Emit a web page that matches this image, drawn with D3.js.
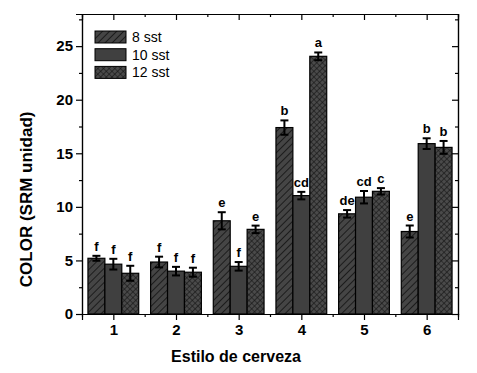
<!DOCTYPE html>
<html>
<head>
<meta charset="utf-8">
<script src="https://cdn.jsdelivr.net/npm/d3@7"></script>
<style>
  body { margin: 0; background: #fff; }
  svg { font-family: Arial, "Liberation Sans", sans-serif; }
</style>
</head>
<body>
<div id="chart"></div>
<script>
// data
const categories = [1, 2, 3, 4, 5, 6];
const seriesNames = ["8 sst", "10 sst", "12 sst"];
const values8  = [5.2, 4.85, 8.7, 17.4, 9.35, 7.7];
const values10 = [4.65, 4.0, 4.45, 11.05, 10.9, 15.9];
const values12 = [3.8, 3.9, 7.9, 24.05, 11.45, 15.55];
const err8  = [0.23, 0.5, 0.8, 0.67, 0.35, 0.56];
const err10 = [0.5, 0.4, 0.4, 0.35, 0.58, 0.5];
const err12 = [0.7, 0.42, 0.35, 0.36, 0.3, 0.6];
const letters8  = ["f", "f", "e", "b", "de", "e"];
const letters10 = ["f", "f", "f", "cd", "cd", "b"];
const letters12 = ["f", "f", "e", "a", "c", "b"];
const yTicks = [0, 5, 10, 15, 20, 25];

const series = [
  { name: seriesNames[0], vals: values8,  errs: err8,  letters: letters8,  fill: "url(#hatch)" },
  { name: seriesNames[1], vals: values10, errs: err10, letters: letters10, fill: "#404040" },
  { name: seriesNames[2], vals: values12, errs: err12, letters: letters12, fill: "url(#cross)" }
];

const W = 477, H = 373;
const margin = { top: 14, right: 19, bottom: 59, left: 82 };
const width = W - margin.left - margin.right,
  height = H - margin.top - margin.bottom;

const root = d3.select("#chart").append("svg")
  .attr("width", W).attr("height", H);

// patterns
const defs = root.append("defs");
const hatch = defs.append("pattern")
  .attr("id", "hatch").attr("patternUnits", "userSpaceOnUse")
  .attr("width", 5).attr("height", 5)
  .attr("patternTransform", "rotate(45)");
hatch.append("rect").attr("width", 5).attr("height", 5).attr("fill", "#454545");
hatch.append("line").attr("x1", 0).attr("y1", 0).attr("x2", 0).attr("y2", 5)
  .attr("stroke", "#111").attr("stroke-width", 1.6);

const cross = defs.append("pattern")
  .attr("id", "cross").attr("patternUnits", "userSpaceOnUse")
  .attr("width", 4).attr("height", 4)
  .attr("patternTransform", "rotate(45)");
cross.append("rect").attr("width", 4).attr("height", 4).attr("fill", "#4a4a4a");
cross.append("path").attr("d", "M0,0V4M0,0H4")
  .attr("stroke", "#111").attr("stroke-width", 1.2);

const svg = root.append("g")
  .attr("transform", `translate(${margin.left},${margin.top})`);

const x = d3.scaleLinear().domain([0.5, 6.5]).range([0, width]);
const y = d3.scaleLinear().domain([0, 28]).range([height, 0]);

const barW = x(0.27) - x(0);
const offsets = [-1, 0, 1];

// axes
const minorY = d3.range(2.5, 28, 5);
svg.append("g").attr("class", "axis")
  .call(d3.axisLeft(y).tickValues(yTicks).tickSize(6).tickPadding(3));
svg.append("g").attr("class", "minor")
  .call(d3.axisLeft(y).tickValues(minorY).tickSize(3).tickFormat(""));
svg.append("g").attr("transform", `translate(${width},0)`)
  .call(d3.axisLeft(y).tickValues(yTicks).tickSize(6).tickFormat(""));
svg.append("g").attr("transform", `translate(${width},0)`)
  .call(d3.axisLeft(y).tickValues(minorY).tickSize(3).tickFormat(""));

const minorX = d3.range(1.5, 6.5, 1);
svg.append("g").attr("class", "axis")
  .attr("transform", `translate(0,${height})`)
  .call(d3.axisBottom(x).tickValues(categories).tickSize(6).tickPadding(4).tickFormat(d3.format("d")));
svg.append("g").attr("transform", `translate(0,${height})`)
  .call(d3.axisBottom(x).tickValues(minorX).tickSize(3).tickFormat(""));
svg.append("g")
  .call(d3.axisBottom(x).tickValues(categories).tickSize(6).tickFormat(""));
svg.append("g")
  .call(d3.axisBottom(x).tickValues(minorX).tickSize(3).tickFormat(""));

svg.selectAll(".domain").attr("stroke", "#000").attr("stroke-width", 1.2);
svg.selectAll(".tick line").attr("stroke", "#000").attr("stroke-width", 1.2);
svg.selectAll(".axis text")
  .attr("font-size", "15px").attr("font-weight", "bold").attr("fill", "#000");

// bars
series.forEach((s, si) => {
  const g = svg.append("g");
  categories.forEach((c, i) => {
    const cx = x(c) + offsets[si] * barW;
    g.append("rect")
      .attr("x", cx - barW / 2)
      .attr("width", barW)
      .attr("y", y(s.vals[i]))
      .attr("height", y(0) - y(s.vals[i]))
      .attr("fill", s.fill)
      .attr("stroke", "#000")
      .attr("stroke-width", 1.2);
    const yt = y(s.vals[i] + s.errs[i]), yb = y(s.vals[i] - s.errs[i]);
    g.append("line").attr("x1", cx).attr("x2", cx).attr("y1", yt).attr("y2", yb)
      .attr("stroke", "#000").attr("stroke-width", 2);
    [yt, yb].forEach(yy => g.append("line")
      .attr("x1", cx - 4).attr("x2", cx + 4).attr("y1", yy).attr("y2", yy)
      .attr("stroke", "#000").attr("stroke-width", 2));
    g.append("text")
      .attr("x", cx).attr("y", yt - 5)
      .attr("text-anchor", "middle")
      .attr("font-size", "13px").attr("font-weight", "bold")
      .text(s.letters[i]);
  });
});

// legend
const legend = svg.append("g").attr("transform", "translate(13,17)");
series.forEach((s, i) => {
  legend.append("rect")
    .attr("x", 0).attr("y", i * 17.7)
    .attr("width", 31).attr("height", 12)
    .attr("fill", s.fill).attr("stroke", "#000").attr("stroke-width", 1);
  legend.append("text")
    .attr("x", 37).attr("y", i * 17.7 + 11)
    .attr("font-size", "14px")
    .text(s.name);
});

// axis titles
svg.append("text")
  .attr("x", x(3.5) - 34).attr("y", height + 48)
  .attr("text-anchor", "middle")
  .attr("font-size", "16px").attr("font-weight", "bold")
  .text("Estilo de cerveza");

svg.append("text")
  .attr("transform", `translate(${-50},${y(10.7)}) rotate(-90)`)
  .attr("text-anchor", "middle")
  .attr("font-size", "17px").attr("font-weight", "bold")
  .text("COLOR (SRM unidad)");
</script>
</body>
</html>
